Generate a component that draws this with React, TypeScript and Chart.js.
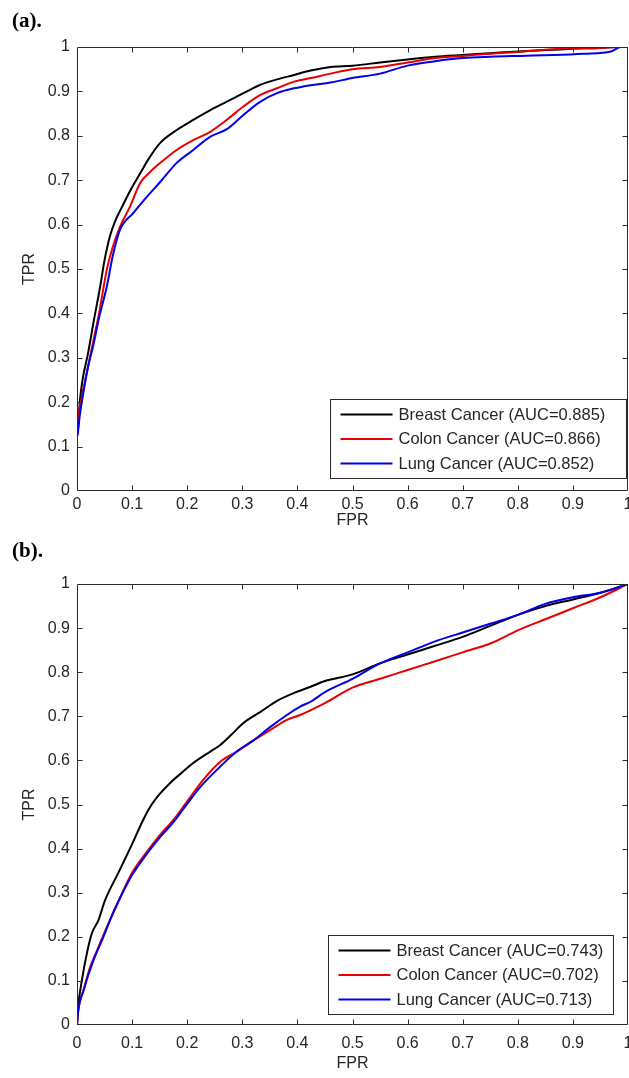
import React, { useEffect, useRef } from 'react';
import { Chart, registerables } from 'chart.js';

Chart.register(...registerables);

// ---------- data ----------
const TICK_VALUES = [0, 0.1, 0.2, 0.3, 0.4, 0.5, 0.6, 0.7, 0.8, 0.9, 1];
const TICK_LABELS = ['0', '0.1', '0.2', '0.3', '0.4', '0.5', '0.6', '0.7', '0.8', '0.9', '1'];
const SERIES_NAMES = ['Breast Cancer', 'Colon Cancer', 'Lung Cancer'];
const AUC_A = ['0.885', '0.866', '0.852'];
const AUC_B = ['0.743', '0.702', '0.713'];
const X_TITLE = 'FPR';
const Y_TITLE = 'TPR';

// Panel (a)
const A_BREAST_FPR = [0, 0, 0.005, 0.01, 0.02, 0.03, 0.042, 0.05, 0.06, 0.07, 0.081, 0.096, 0.115, 0.13, 0.151, 0.181, 0.211, 0.242, 0.272, 0.302, 0.333, 0.363, 0.394, 0.424, 0.46, 0.5, 0.55, 0.6, 0.65, 0.7, 0.75, 0.8, 0.85, 0.9, 0.95, 0.98, 1.0];
const A_BREAST_TPR = [0.03, 0.12, 0.2, 0.25, 0.31, 0.38, 0.46, 0.52, 0.575, 0.61, 0.638, 0.675, 0.716, 0.748, 0.784, 0.813, 0.836, 0.858, 0.877, 0.896, 0.915, 0.927, 0.937, 0.947, 0.955, 0.958, 0.965, 0.972, 0.978, 0.982, 0.986, 0.99, 0.993, 0.996, 0.998, 1.0, 1.0];

const A_COLON_FPR = [0, 0, 0.005, 0.01, 0.02, 0.03, 0.04, 0.054, 0.065, 0.078, 0.096, 0.115, 0.133, 0.157, 0.181, 0.211, 0.242, 0.272, 0.302, 0.333, 0.363, 0.394, 0.424, 0.46, 0.5, 0.55, 0.6, 0.65, 0.7, 0.75, 0.8, 0.865, 0.9, 0.95, 0.98, 1.0];
const A_COLON_TPR = [0.1, 0.15, 0.19, 0.22, 0.28, 0.34, 0.4, 0.498, 0.55, 0.595, 0.64, 0.694, 0.719, 0.745, 0.768, 0.79, 0.809, 0.836, 0.866, 0.892, 0.907, 0.922, 0.93, 0.94, 0.95, 0.955, 0.965, 0.975, 0.98, 0.985, 0.989, 0.995, 0.997, 0.998, 1.0, 1.0];

const A_LUNG_FPR = [0, 0, 0.005, 0.01, 0.02, 0.03, 0.04, 0.054, 0.065, 0.078, 0.102, 0.127, 0.151, 0.181, 0.211, 0.242, 0.272, 0.302, 0.333, 0.363, 0.394, 0.424, 0.46, 0.5, 0.55, 0.6, 0.65, 0.7, 0.75, 0.805, 0.865, 0.92, 0.969, 0.987, 1.0];
const A_LUNG_TPR = [0.03, 0.12, 0.17, 0.21, 0.28, 0.33, 0.39, 0.46, 0.53, 0.588, 0.626, 0.663, 0.696, 0.739, 0.768, 0.798, 0.815, 0.847, 0.877, 0.896, 0.907, 0.914, 0.92, 0.93, 0.94, 0.958, 0.968, 0.975, 0.978, 0.98, 0.982, 0.985, 0.99, 1.0, 1.0];

// Panel (b)
const B_BREAST_FPR = [0, 0.002, 0.008, 0.018, 0.027, 0.039, 0.05, 0.075, 0.1, 0.12, 0.133, 0.151, 0.17, 0.19, 0.211, 0.242, 0.26, 0.28, 0.302, 0.333, 0.363, 0.394, 0.424, 0.45, 0.5, 0.55, 0.6, 0.65, 0.7, 0.75, 0.8, 0.85, 0.9, 0.95, 1.0];
const B_BREAST_TPR = [0.0, 0.04, 0.095, 0.163, 0.208, 0.238, 0.28, 0.345, 0.41, 0.465, 0.495, 0.525, 0.55, 0.572, 0.594, 0.62, 0.635, 0.658, 0.685, 0.71, 0.735, 0.753, 0.767, 0.78, 0.795, 0.82, 0.84, 0.86, 0.88, 0.905, 0.93, 0.95, 0.965, 0.98, 1.0];

const B_COLON_FPR = [0, 0.002, 0.012, 0.024, 0.035, 0.05, 0.075, 0.1, 0.125, 0.15, 0.175, 0.193, 0.211, 0.229, 0.26, 0.29, 0.321, 0.351, 0.381, 0.405, 0.424, 0.45, 0.5, 0.55, 0.6, 0.65, 0.7, 0.75, 0.8, 0.85, 0.9, 0.95, 1.0];
const B_COLON_TPR = [0, 0.03, 0.08, 0.132, 0.165, 0.21, 0.28, 0.345, 0.39, 0.43, 0.465, 0.495, 0.526, 0.556, 0.597, 0.62, 0.646, 0.669, 0.692, 0.703, 0.714, 0.73, 0.765, 0.785, 0.805, 0.825, 0.845, 0.865, 0.895, 0.92, 0.945, 0.97, 1.0];

const B_LUNG_FPR = [0, 0.002, 0.012, 0.03, 0.048, 0.06, 0.075, 0.1, 0.125, 0.15, 0.175, 0.193, 0.224, 0.26, 0.29, 0.321, 0.351, 0.381, 0.405, 0.424, 0.45, 0.5, 0.55, 0.6, 0.65, 0.7, 0.75, 0.8, 0.85, 0.9, 0.95, 1.0];
const B_LUNG_TPR = [0, 0.03, 0.079, 0.147, 0.2, 0.238, 0.28, 0.34, 0.385, 0.425, 0.46, 0.49, 0.54, 0.586, 0.62, 0.646, 0.676, 0.703, 0.722, 0.733, 0.755, 0.785, 0.82, 0.845, 0.87, 0.89, 0.91, 0.93, 0.955, 0.97, 0.98, 1.0];

// ---------- styles ----------
const COLORS = ['#000000', '#e60000', '#0000eb'];
const SANS = "'Liberation Sans', Arial, sans-serif";
const SERIF = "'Liberation Serif', 'Times New Roman', serif";
const TEXT_COLOR = '#262626';
const FRAME_COLOR = '#2a2a2a';

const toPoints = (xs: number[], ys: number[]) => xs.map((x, i) => ({ x, y: ys[i] }));

type PanelCfg = {
  tag: string;
  top: number;
  height: number;
  padTop: number;
  xAxisHeight: number;
  tickPad: number;
  titlePadBottom: number;
  auc: string[];
  series: { fpr: number[]; tpr: number[] }[];
  legend: { rightGap: number; bottomGap: number; extraRight: number };
};

const PANELS: PanelCfg[] = [
  {
    tag: '(a).',
    top: 0,
    height: 530,
    padTop: 47,
    xAxisHeight: 39,
    tickPad: 4,
    titlePadBottom: 0,
    auc: AUC_A,
    series: [
      { fpr: A_BREAST_FPR, tpr: A_BREAST_TPR },
      { fpr: A_COLON_FPR, tpr: A_COLON_TPR },
      { fpr: A_LUNG_FPR, tpr: A_LUNG_TPR },
    ],
    legend: { rightGap: 2, bottomGap: 13, extraRight: 21 },
  },
  {
    tag: '(b).',
    top: 530,
    height: 548,
    padTop: 54,
    xAxisHeight: 53,
    tickPad: 9,
    titlePadBottom: 5,
    auc: AUC_B,
    series: [
      { fpr: B_BREAST_FPR, tpr: B_BREAST_TPR },
      { fpr: B_COLON_FPR, tpr: B_COLON_TPR },
      { fpr: B_LUNG_FPR, tpr: B_LUNG_TPR },
    ],
    legend: { rightGap: 15, bottomGap: 11, extraRight: 10 },
  },
];

const framePlugin = {
  id: 'matlabFrame',
  afterDraw(chart: any, _args: any, opts: any) {
    const { ctx, chartArea } = chart;
    const { left, right, top, bottom } = chartArea;
    const xs = chart.scales.x;
    const ys = chart.scales.y;
    const L = Math.round(left) + 0.5;
    const R = Math.round(right) - 0.5;
    const T = Math.round(top) + 0.5;
    const B = Math.round(bottom) - 0.5;
    ctx.save();
    ctx.strokeStyle = FRAME_COLOR;
    ctx.lineWidth = 1;
    ctx.beginPath();
    ctx.rect(L, T, R - L, B - T);
    const tl = 5;
    TICK_VALUES.forEach((v) => {
      if (v <= 0 || v >= 1) return;
      const px = Math.round(xs.getPixelForValue(v)) + 0.5;
      ctx.moveTo(px, B);
      ctx.lineTo(px, B - tl);
      ctx.moveTo(px, T);
      ctx.lineTo(px, T + tl);
      const py = Math.round(ys.getPixelForValue(v)) + 0.5;
      ctx.moveTo(L, py);
      ctx.lineTo(L + tl, py);
      ctx.moveTo(R, py);
      ctx.lineTo(R - tl, py);
    });
    ctx.stroke();

    // legend box
    ctx.font = `16.5px ${SANS}`;
    const labels: string[] = opts.labels;
    const maxW = Math.max(...labels.map((s) => ctx.measureText(s).width));
    const lineLen = 52;
    const padL = 10;
    const gap = 6;
    const rowH = 24.5;
    const boxW = Math.round(padL + lineLen + gap + maxW + opts.extraRight);
    const boxH = 79;
    const bx = Math.round(right - opts.rightGap - boxW) + 0.5;
    const by = Math.round(bottom - opts.bottomGap - boxH) + 0.5;
    ctx.fillStyle = '#ffffff';
    ctx.fillRect(bx, by, boxW, boxH);
    ctx.strokeStyle = FRAME_COLOR;
    ctx.strokeRect(bx, by, boxW, boxH);
    labels.forEach((lab, i) => {
      const cy = by + 15 + i * rowH;
      ctx.strokeStyle = COLORS[i];
      ctx.lineWidth = 2;
      ctx.beginPath();
      ctx.moveTo(bx + padL, cy);
      ctx.lineTo(bx + padL + lineLen, cy);
      ctx.stroke();
      ctx.fillStyle = TEXT_COLOR;
      ctx.textAlign = 'left';
      ctx.textBaseline = 'middle';
      ctx.fillText(lab, bx + padL + lineLen + gap, cy + 0.5);
    });
    ctx.restore();
  },
};

function Panel({ cfg }: { cfg: PanelCfg }) {
  const ref = useRef<HTMLCanvasElement | null>(null);
  useEffect(() => {
    if (!ref.current) return;
    const order = [2, 1, 0];
    const chart = new Chart(ref.current, {
      type: 'line',
      data: {
        datasets: cfg.series.map((s, i) => ({
          label: SERIES_NAMES[i],
          data: toPoints(s.fpr, s.tpr),
          borderColor: COLORS[i],
          backgroundColor: COLORS[i],
          borderWidth: 2,
          pointRadius: 0,
          cubicInterpolationMode: 'monotone',
          fill: false,
          order: order[i],
        })),
      },
      options: {
        animation: false,
        responsive: false,
        maintainAspectRatio: false,
        devicePixelRatio: 1,
        parsing: false as any,
        layout: { padding: { left: 0, right: 1, top: cfg.padTop, bottom: 0 } },
        plugins: {
          legend: { display: false },
          tooltip: { enabled: false },
          title: { display: false },
          matlabFrame: {
            labels: SERIES_NAMES.map((n, i) => `${n} (AUC=${cfg.auc[i]})`),
            rightGap: cfg.legend.rightGap,
            bottomGap: cfg.legend.bottomGap,
            extraRight: cfg.legend.extraRight,
          },
        } as any,
        scales: {
          x: {
            type: 'linear',
            min: 0,
            max: 1,
            grid: { display: false, drawTicks: false },
            border: { display: false },
            afterBuildTicks: (scale: any) => {
              scale.ticks = TICK_VALUES.map((v) => ({ value: v }));
            },
            afterFit: (scale: any) => {
              scale.height = cfg.xAxisHeight;
              scale.paddingLeft = 0;
              scale.paddingRight = 0;
            },
            ticks: {
              autoSkip: false,
              maxRotation: 0,
              padding: cfg.tickPad,
              color: TEXT_COLOR,
              font: { family: SANS, size: 16 },
              callback: (_v: any, i: number) => TICK_LABELS[i],
            },
            title: {
              display: true,
              text: X_TITLE,
              color: TEXT_COLOR,
              font: { family: SANS, size: 16 },
              padding: { top: 0, bottom: cfg.titlePadBottom },
            },
          },
          y: {
            type: 'linear',
            min: 0,
            max: 1,
            grid: { display: false, drawTicks: false },
            border: { display: false },
            afterBuildTicks: (scale: any) => {
              scale.ticks = TICK_VALUES.map((v) => ({ value: v }));
            },
            afterFit: (scale: any) => {
              scale.width = 77;
              scale.paddingTop = 0;
              scale.paddingBottom = 0;
            },
            ticks: {
              autoSkip: false,
              padding: 7,
              color: TEXT_COLOR,
              font: { family: SANS, size: 16 },
              callback: (_v: any, i: number) => TICK_LABELS[i],
            },
            title: {
              display: true,
              text: Y_TITLE,
              color: TEXT_COLOR,
              font: { family: SANS, size: 16 },
              padding: { top: 20, bottom: 0 },
            },
          },
        },
      },
      plugins: [framePlugin],
    } as any);
    return () => chart.destroy();
  }, [cfg]);

  return (
    <div style={{ position: 'absolute', left: 0, top: cfg.top, width: 629, height: cfg.height }}>
      <canvas ref={ref} width={629} height={cfg.height} style={{ width: 629, height: cfg.height, display: 'block' }} />
      <div
        style={{
          position: 'absolute',
          left: 12,
          top: 10,
          fontFamily: SERIF,
          fontWeight: 'bold',
          fontSize: 21,
          lineHeight: '21px',
          color: '#000',
        }}
      >
        {cfg.tag}
      </div>
    </div>
  );
}

export default function App() {
  return (
    <div style={{ position: 'absolute', left: 0, top: 0, width: 629, height: 1078, background: '#fff', overflow: 'hidden' }}>
      {PANELS.map((p) => (
        <Panel key={p.tag} cfg={p} />
      ))}
    </div>
  );
}
